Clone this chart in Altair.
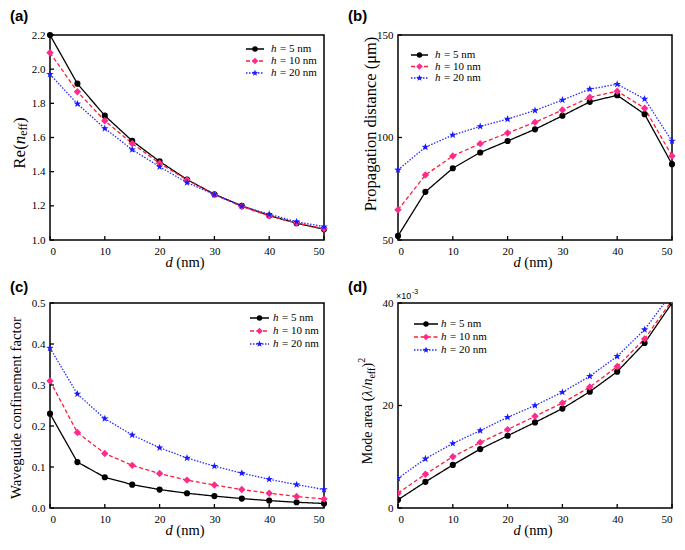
import altair as alt
import pandas as pd

# ---------------- data ----------------
d_nm = [0, 5, 10, 15, 20, 25, 30, 35, 40, 45, 50]
series_names = ["h = 5 nm", "h = 10 nm", "h = 20 nm"]

re_h5 = [2.200, 1.915, 1.728, 1.580, 1.460, 1.354, 1.268, 1.200, 1.143, 1.098, 1.063]
re_h10 = [2.096, 1.868, 1.698, 1.565, 1.449, 1.352, 1.266, 1.196, 1.141, 1.100, 1.066]
re_h20 = [1.970, 1.797, 1.653, 1.529, 1.429, 1.336, 1.266, 1.198, 1.151, 1.107, 1.078]

prop_h5 = [52.0, 73.5, 85.0, 92.7, 98.3, 104.0, 110.6, 117.4, 120.6, 111.4, 87.0]
prop_h10 = [64.7, 81.7, 91.0, 97.0, 102.2, 107.4, 113.4, 119.6, 122.6, 114.3, 91.0]
prop_h20 = [84.2, 95.3, 101.2, 105.4, 109.0, 113.2, 118.3, 123.6, 126.0, 118.8, 98.3]

conf_h5 = [0.230, 0.112, 0.075, 0.057, 0.045, 0.036, 0.029, 0.023, 0.018, 0.014, 0.011]
conf_h10 = [0.310, 0.184, 0.133, 0.104, 0.084, 0.068, 0.056, 0.045, 0.036, 0.028, 0.022]
conf_h20 = [0.390, 0.278, 0.218, 0.178, 0.147, 0.122, 0.102, 0.085, 0.070, 0.057, 0.045]

# mode area in units of 1e-3
area_h5 = [1.6, 5.1, 8.4, 11.5, 14.1, 16.7, 19.4, 22.7, 26.6, 32.2, 40.0]
area_h10 = [2.9, 6.6, 10.0, 12.8, 15.3, 17.9, 20.5, 23.6, 27.6, 33.0, 40.5]
area_h20 = [5.8, 9.6, 12.6, 15.1, 17.7, 20.0, 22.6, 25.7, 29.6, 34.8, 42.0]

x_ticks = [0, 10, 20, 30, 40, 50]
re_ticks = [1.0, 1.2, 1.4, 1.6, 1.8, 2.0, 2.2]
prop_ticks = [50, 100, 150]
conf_ticks = [0.0, 0.1, 0.2, 0.3, 0.4, 0.5]
area_ticks = [0, 20, 40]

# ---------------- style ----------------
W, H = 274, 205
SERIF = "Liberation Serif"
SANS = "Liberation Sans"
STAR = ("M0,-1L0.235,-0.324L0.951,-0.309L0.38,0.124L0.588,0.809L0,0.4"
        "L-0.588,0.809L-0.38,0.124L-0.951,-0.309L-0.235,-0.324Z")
STYLES = [
    dict(line="#000000", fill="#000000", dash=[1, 0], shape="circle", size=38),
    dict(line="#ff1f3d", fill="#ff2b8c", dash=[4, 2.5], shape="diamond", size=55),
    dict(line="#2a2aff", fill="#1a1aff", dash=[1.5, 1.5], shape=STAR, size=62),
]

TW = {" ": .25, "(": .333, ")": .333, "/": .278, "R": .667, "e": .444, "f": .333,
      "n": .5, "M": .889, "o": .5, "d": .5, "a": .444, "r": .333, "m": .778,
      "2": .5, "=": .564, "h": .5, "λ": .5, "5": .5, "0": .5, "1": .5}


def tw(s, size):
    return sum(TW.get(c, 0.5) for c in s) * size


def txt(s, x, y, size, font=SERIF, style="normal", weight="normal", angle=0,
        align="left", baseline="middle", dx=0, dy=0):
    return alt.Chart(pd.DataFrame({"t": [s]})).mark_text(
        font=font, fontSize=size, fontStyle=style, fontWeight=weight, angle=angle,
        align=align, baseline=baseline, dx=dx, dy=dy, color="black"
    ).encode(text="t:N", x=alt.value(x), y=alt.value(y))


def composite(pieces, x, y, angle=0):
    """pieces: (text, size, style, dy). Centered on (x, y) along the text direction."""
    total = sum(tw(p[0], p[1]) for p in pieces)
    pos = -total / 2
    layers = []
    for s, size, style, dy in pieces:
        lead = len(s) - len(s.lstrip(" "))
        pos += lead * TW[" "] * size
        core = s.strip(" ")
        layers.append(txt(core, x, y, size, style=style, angle=angle, dx=pos, dy=dy))
        pos += tw(core, size) + (len(s) - lead - len(core)) * TW[" "] * size
    return layers


def legend(x1, x2, xt, ys, size=11):
    layers = []
    for st, name, y in zip(STYLES, series_names, ys):
        one = pd.DataFrame({"a": [0]})
        layers.append(alt.Chart(one).mark_rule(color=st["line"], strokeDash=st["dash"],
                                               strokeWidth=1.3).encode(
            x=alt.value(x1), x2=alt.value(x2), y=alt.value(y)))
        layers.append(alt.Chart(one).mark_point(shape=st["shape"], filled=True, size=st["size"] * 0.8,
                                                color=st["fill"], opacity=1).encode(
            x=alt.value((x1 + x2) / 2), y=alt.value(y)))
        layers.append(txt("h", xt, y, size, style="italic"))
        layers.append(txt(name[1:].strip(), xt + 9, y, size))
    return layers


def panel(series, ydom, yticks, yfmt, letter, letter_x, letter_y, ytitle_layers,
          leg, clip=False):
    X = alt.X("d:Q", scale=alt.Scale(domain=[0, 50], nice=False, zero=False),
              axis=alt.Axis(values=x_ticks, title=None, grid=False, domain=False, ticks=False,
                            labelPadding=5, labelFont=SERIF, labelFontSize=11,
                            labelColor="black"))
    Y = alt.Y("y:Q", scale=alt.Scale(domain=ydom, nice=False, zero=False),
              axis=alt.Axis(values=yticks, format=yfmt, title=None, grid=False, domain=False,
                            ticks=False, labelPadding=5, labelFont=SERIF, labelFontSize=11,
                            labelColor="black"))
    layers = []
    for vals, st in zip(series, STYLES):
        df = pd.DataFrame({"d": d_nm, "y": vals})
        layers.append(alt.Chart(df).mark_line(color=st["line"], strokeDash=st["dash"],
                                              strokeWidth=1.3, clip=clip).encode(x=X, y=Y))
    for vals, st in zip(series, STYLES):
        df = pd.DataFrame({"d": d_nm, "y": vals})
        layers.append(alt.Chart(df).mark_point(shape=st["shape"], filled=True, size=st["size"],
                                               color=st["fill"], opacity=1, clip=clip).encode(x=X, y=Y))
    layers.append(alt.Chart(pd.DataFrame({"d": x_ticks})).mark_rule(color="black", strokeWidth=1.3)
                  .encode(x=X, y=alt.value(H), y2=alt.value(H - 4)))
    layers.append(alt.Chart(pd.DataFrame({"y": yticks})).mark_rule(color="black", strokeWidth=1.3)
                  .encode(y=Y, x=alt.value(0), x2=alt.value(4)))
    layers += composite([("d", 14.5, "italic", 0), (" (nm)", 14.5, "normal", 0)], W / 2 - 2, H + 23)
    layers += ytitle_layers
    layers += leg
    layers.append(txt(letter, letter_x, letter_y, 15, font=SANS, weight="bold"))
    return alt.layer(*layers).properties(width=W, height=H)


pa = panel([re_h5, re_h10, re_h20], [1.0, 2.2], re_ticks, ".1f", "(a)", -40, -19,
           composite([("Re(", 17, "normal", 0), ("n", 17, "italic", 0),
                      ("eff", 11.5, "normal", 4), (")", 17, "normal", 0)], -30, 108, angle=270),
           legend(196, 214, 221, [14, 26, 38]))

pb = panel([prop_h5, prop_h10, prop_h20], [50, 150], prop_ticks, "d", "(b)", -50, -19,
           [txt("Propagation distance (μm)", -27, 89, 16.5, angle=270, align="center")],
           legend(13, 30, 37, [20, 31.5, 43]))

pc = panel([conf_h5, conf_h10, conf_h20], [0.0, 0.5], conf_ticks, ".1f", "(c)", -40, -16,
           [txt("Waveguide confinement factor", -33, 105, 14.8, angle=270, align="center")],
           legend(200, 219, 223, [15, 28, 41]))

pd_ = panel([area_h5, area_h10, area_h20], [0, 40], area_ticks, "d", "(d)", -50, -16,
            composite([("Mode area (", 14, "normal", 0), ("λ", 14, "italic", 0),
                       ("/", 14, "normal", 0), ("n", 14, "italic", 0),
                       ("eff", 10, "normal", 4), (")", 14, "normal", 0),
                       ("2", 10, "normal", -6)], -30, 108, angle=270)
            + [txt("×10", -2, -7, 9, font=SANS), txt("-3", -2, -7, 7, font=SANS, dx=16, dy=-4)],
            legend(16, 40, 43, [21, 34, 47]), clip=True)

chart = alt.concat(pa, pb, pc, pd_, columns=2, spacing={"row": 8, "column": 18}).properties(
    padding=0
).configure_view(stroke="black", strokeWidth=1.5)

chart.save("out.html", embed_options={"renderer": "svg", "actions": False})
